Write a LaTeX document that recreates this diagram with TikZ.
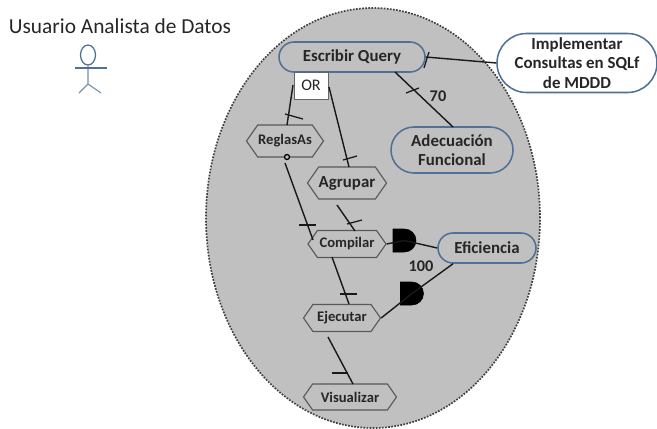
\documentclass[tikz,border=0pt]{standalone}
\usepackage{fontspec}
\setmainfont{Carlito}
\usepackage{tikz}
\usetikzlibrary{shapes.geometric, shapes.misc, shapes.symbols}

\newlength{\pxu}
\setlength{\pxu}{0.025cm}
\definecolor{bubblegray}{RGB}{192,192,192}
\definecolor{goalblue}{RGB}{80,112,150}
\definecolor{actorblue}{RGB}{120,145,175}
\tikzset{
  softgoal/.style={rounded rectangle, draw=goalblue, line width=1.1pt, fill=bubblegray, inner sep=0pt, align=center, text=black!85, font=\fontsize{12}{14}\selectfont\bfseries},
  task/.style={signal, signal to=west and east, signal pointer angle=110, draw=black!65, line width=0.8pt, fill=bubblegray, inner sep=0pt, text=black!85, font=\fontsize{10.4}{12}\selectfont\bfseries},
  link/.style={draw=black!90, line width=1pt},
  tickmark/.style={draw=black!90, line width=0.9pt},
  gatefill/.style={rounded rectangle, rounded rectangle west arc=none, draw=black, fill=black, inner sep=0pt, minimum width=21\pxu, minimum height=23\pxu},
  weight/.style={inner sep=0pt, text=black!85, font=\fontsize{11.6}{13}\selectfont\bfseries}
}

\begin{document}
\begin{tikzpicture}[x=0.025cm, y=-0.025cm]
\useasboundingbox (0, 0) rectangle (657, 428);
\clip (0, 0) rectangle (657, 428);

% boundary
\node[ellipse, draw=black!75, densely dotted, line width=1.2pt, fill=bubblegray, inner sep=0pt, minimum width=334\pxu, minimum height=420\pxu] (boundary) at (373, 218) {};

% actor
\node[inner sep=0pt, text=black!85, font=\fontsize{15.2}{17}\selectfont] (analista) at (120, 26) {Usuario Analista de Datos};
\node[ellipse, draw=goalblue, line width=0.9pt, inner sep=0pt, minimum width=15\pxu, minimum height=20\pxu] (head) at (88, 55) {};
\coordinate (hip) at (88, 84);
\coordinate (armL) at (75, 68);
\coordinate (armR) at (107, 68);
\coordinate (legL) at (79, 93);
\coordinate (legR) at (101, 93);
\draw[actorblue, line width=0.8pt] (head.south) -- (hip) -- (legL);
\draw[actorblue, line width=0.8pt] (hip) -- (legR);
\draw[goalblue, line width=0.8pt] (armL) -- (armR);

% goals
\node[softgoal, minimum width=146\pxu, minimum height=30\pxu] (escribir) at (352, 57) {Escribir Query};
\node[softgoal, minimum width=122\pxu, minimum height=46\pxu] (adecuacion) at (452, 150) {Adecuación\\Funcional};
\node[softgoal, minimum width=98\pxu, minimum height=30\pxu] (eficiencia) at (487, 248) {Eficiencia};
\node[softgoal, fill=white, minimum width=160\pxu, minimum height=59\pxu] (implementar) at (577, 63) {Implementar\\Consultas en SQLf\\de MDDD};

% tasks
\node[task, minimum width=77\pxu, minimum height=32\pxu] (reglas) at (285, 141) {ReglasAs};
\node[task, font=\fontsize{12}{14}\selectfont\bfseries, minimum width=78\pxu, minimum height=32\pxu] (agrupar) at (347, 183) {Agrupar};
\node[task, minimum width=78\pxu, minimum height=27\pxu] (compilar) at (347, 244) {Compilar};
\node[task, minimum width=77\pxu, minimum height=27\pxu] (ejecutar) at (342, 318) {Ejecutar};
\node[task, minimum width=93\pxu, minimum height=26\pxu] (visualizar) at (350, 397) {Visualizar};

% OR box
\node[draw=black!60, line width=0.6pt, fill=white, inner sep=0pt, minimum width=34\pxu, minimum height=27\pxu, text=black!85, font=\fontsize{11.5}{13}\selectfont] (or) at (311, 85.5) {OR};
\node[circle, draw=black, line width=0.9pt, fill=bubblegray, inner sep=0pt, minimum size=5\pxu] (dot) at (287, 157) {};

% gates
\node[gatefill] (gate1) at (404.5, 240.5) {};
\node[gatefill] (gate2) at (412, 293.5) {};

% connectors
\coordinate (orL) at (293, 85);
\coordinate (orR) at (329, 87);
\coordinate (reglasT) at (287, 125);
\coordinate (agruparT) at (349, 167);
\coordinate (escribirB) at (395, 72);
\coordinate (adecuacionT) at (453, 127);
\coordinate (dotB) at (285, 163);
\coordinate (compilarL) at (313, 240);
\coordinate (agruparB) at (337, 205);
\coordinate (compilarT) at (355, 231);
\coordinate (compilarB) at (332, 257);
\coordinate (ejecutarT) at (349, 304);
\coordinate (ejecutarB) at (328, 337);
\coordinate (visualizarT) at (353, 384);
\draw[link] (implementar.west) -- (escribir.east);
\draw[link] (escribirB) -- (adecuacionT);
\draw[link] (orL) -- (reglasT);
\draw[link] (orR) -- (agruparT);
\draw[link] (dotB) -- (compilarL);
\draw[link] (agruparB) -- (compilarT);
\draw[link] (compilarB) -- (ejecutarT);
\draw[link] (ejecutarB) -- (visualizarT);
\draw[link] (compilar.east) -- (gate1.center);
\draw[link] (gate1.center) -- (eficiencia.west);
\draw[link] (ejecutar.east) -- (gate2.center);
\draw[link] (gate2.center) -- (eficiencia.south west);

% ticks
\draw[tickmark] (424, 68) -- (429, 52);
\draw[tickmark] (406, 93) -- (419, 88);
\draw[tickmark] (285, 114) -- (303, 119);
\draw[tickmark] (343, 160) -- (357, 156);
\draw[tickmark] (299, 225) -- (316, 225);
\draw[tickmark] (347, 224) -- (362, 220);
\draw[tickmark] (340, 294) -- (357, 294);
\draw[tickmark] (332, 373) -- (348, 373);

% labels
\node[weight] (w70) at (438, 96) {70};
\node[weight] (w100) at (421, 266) {100};
\end{tikzpicture}
\end{document}
